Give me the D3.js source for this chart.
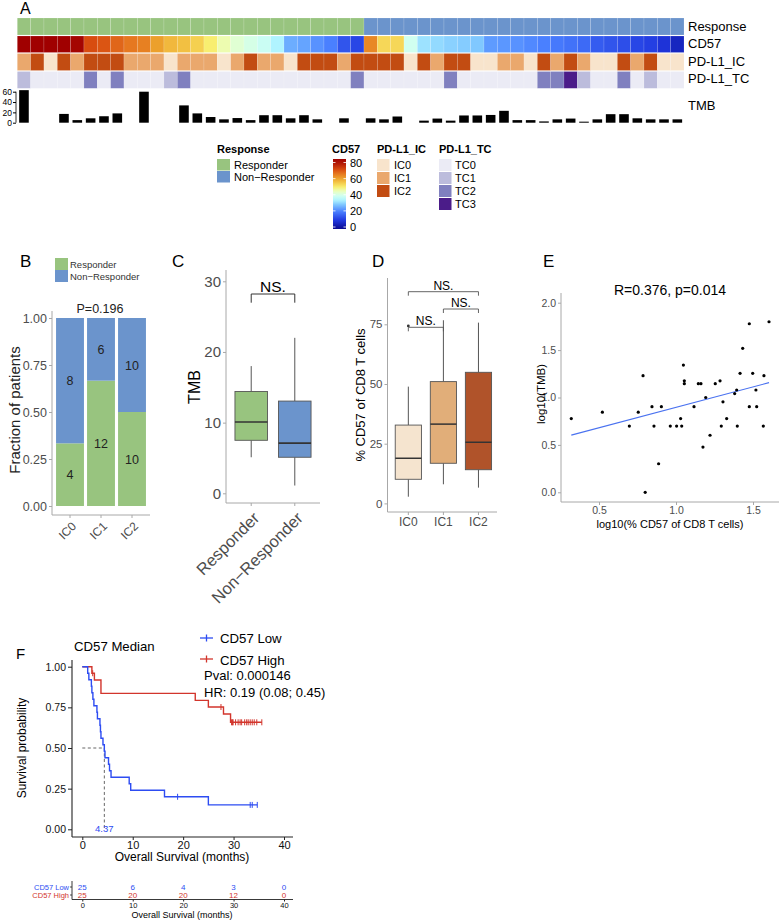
<!DOCTYPE html>
<html><head><meta charset="utf-8">
<script src="https://cdn.jsdelivr.net/npm/d3@7"></script>
<style>body{margin:0;background:#fff}</style>
</head><body>
<svg id="c" width="780" height="921"></svg>
<script>
// ================= DATA =================
// Panel A heatmap (50 patients)
const responseCodes = ["R","R","R","R","R","R","R","R","R","R","R","R","R","R","R","R","R","R","R","R","R","R","R","R","R","R",
  "N","N","N","N","N","N","N","N","N","N","N","N","N","N","N","N","N","N","N","N","N","N","N","N"];
const cd57Values = [85,84,83,80,79,68,67,65,63,62,58,55,54,52,48,44,41,39,37,33,25,24,22,20,14,12,
  61,51,51,38,31,30,29,28.5,28,23,22.5,22,21,20,19,18,17,15,14,13,12,11,9,6];
const pdl1IC = ["IC1","IC2","IC0","IC2","IC1","IC2","IC2","IC2","IC1","IC1","IC1","IC0","IC1","IC1","IC1","IC0","IC1","IC2","IC1","IC1","IC0","IC2","IC2","IC2","IC1","IC2",
  "IC2","IC2","IC2","IC0","IC2","IC1","IC2","IC2","IC0","IC0","IC1","IC1","IC0","IC2","IC1","IC2","IC1","IC0","IC0","IC2","IC1","IC2","IC0","IC0"];
const pdl1TC = ["TC1","TC0","TC0","TC0","TC0","TC2","TC0","TC2","TC0","TC0","TC0","TC1","TC2","TC0","TC0","TC0","TC0","TC0","TC0","TC0","TC0","TC0","TC0","TC0","TC0","TC2",
  "TC0","TC0","TC0","TC0","TC0","TC0","TC2","TC0","TC0","TC0","TC0","TC0","TC0","TC2","TC2","TC3","TC1","TC0","TC0","TC2","TC0","TC1","TC0","TC0"];
const tmbValues = [63,null,null,17,5,8.5,12.5,18,null,60,null,null,33.5,18,11,6.5,9,5,14.5,14.5,8.5,14.5,6.5,null,8.5,null,
  8.5,6.5,12,null,4,8,4,14,14,15,23,5,5,2.5,6.5,8,2,6.5,16.5,16.5,8.5,6.5,6.5,6.5];
const tmbTicks = [0,20,40,60];
const cd57LegendTicks = [0,20,40,60,80];
const icLevels = ["IC0","IC1","IC2"];
const tcLevels = ["TC0","TC1","TC2","TC3"];
const responseLevels = ["Responder","Non\u2212Responder"];

// Panel B
const bCategories = ["IC0","IC1","IC2"];
const bResponders = [4,12,10];
const bNonResponders = [8,6,10];
const bTicks = [0,0.25,0.5,0.75,1];

// Panel C (TMB by response, box stats)
const cGroups = ["Responder","Non\u2212Responder"];
const cMin = [5.1,1.1], cQ1 = [7.5,5.1], cMed = [10.1,7.1], cQ3 = [14.4,13.05], cMax = [18,22];
const cTicks = [0,10,20,30];

// Panel D (% CD57 by PD-L1 IC)
const dGroups = ["IC0","IC1","IC2"];
const dMin = [2.8,8,6.6], dQ1 = [10.1,16.8,14.1], dMed = [18.9,33.2,25.6], dQ3 = [32.8,51,54.9], dMax = [48.9,76.7,75.7];
const dOutlierGroup = ["IC0"], dOutlierValue = [74.3];
const dTicks = [0,25,50,75];

// Panel E scatter
const eX = [0.320,0.522,0.697,0.755,0.786,0.844,0.857,0.905,0.887,0.963,1.004,1.030,1.037,1.048,1.054,1.054,1.117,1.145,1.162,1.175,1.193,1.221,1.255,1.286,1.294,1.305,1.329,1.381,1.394,1.398,1.416,1.433,1.476,1.476,1.498,1.519,1.524,1.567,1.571,1.604,0.800];
const eY = [0.778,0.845,0.699,0.845,1.230,0.903,0.699,0.903,0.301,0.699,0.699,0.778,0.699,1.342,1.176,1.146,0.903,1.146,1.146,0.477,1.000,0.602,1.146,1.176,0.699,0.954,0.778,1.041,1.079,0.699,1.255,1.519,1.778,0.903,1.255,1.079,0.903,0.699,1.230,1.799,0.000];
const eFitX = [0.320,1.604], eFitY = [0.603,1.157];
const eYTicks = [0,0.5,1,1.5,2], eXTicks = [0.5,1,1.5];

// Panel F survival
const lowTimes = [0,1.07,1.3,1.8,1.9,2.1,2.3,2.9,3.0,3.5,3.6,3.7,4.1,4.37,4.5,5.2,5.4,5.7,9.3,9.6,16.3,25.0,34.7];
const lowSurv  = [1,0.96,0.92,0.88,0.84,0.80,0.76,0.72,0.68,0.64,0.60,0.56,0.52,0.48,0.44,0.40,0.36,0.32,0.28,0.24,0.20,0.15,0.15];
const lowCensor = [18.9,33.3,33.7,34.7];
const highTimes = [0,1.9,2.4,3.7,22.4,25.0,28.0,29.4,35.6];
const highSurv  = [1,0.96,0.918,0.836,0.793,0.752,0.709,0.658,0.658];
const highCensor = [2.06,27.5,29.6,29.8,29.9,30.4,30.9,31.3,31.6,32.2,32.6,32.9,33.3,33.7,34.1,34.6,35.6];
const medianLow = 4.37;
const fTicksX = [0,10,20,30,40], fTicksY = [0,0.25,0.5,0.75,1];
const riskTimes = [0,10,20,30,40];
const riskLow = [25,6,4,3,0];
const riskHigh = [25,20,20,12,0];

// ================= STYLE =================
const FONT = '"Liberation Sans", Arial, Helvetica, sans-serif';
const GREEN = "#98c47f", BLUE = "#6b94cc";
const respColor = {R: GREEN, N: BLUE};
const icColor = {IC0:"#f8e4cc", IC1:"#eaa86d", IC2:"#c24c12"};
const tcColor = {TC0:"#ebebf5", TC1:"#bcbcdc", TC2:"#8080bf", TC3:"#4b1c89"};
const dFill = {IC0:"#f5e4cf", IC1:"#e1ae79", IC2:"#b0532a"};
const cd57Scale = d3.scaleLinear()
  .domain([0,10,20,28,33,38,43,48,53,58,63,68,74,80])
  .range(["#0a0a90","#2038e0","#4a80ff","#80c8ff","#b0f4ff","#d0fff0","#eaffc0","#f8ee70","#f4c848","#eca02c","#e67820","#d84c10","#b82008","#a00000"])
  .clamp(true);
const AX = "#a8a8a8", TX = "#4d4d4d";
const RED = "#d2352c", BLU = "#2d4cf2";

const svg = d3.select("#c").attr("font-family", FONT);
function text(x,y,s,o={}) {
  const t = svg.append("text").attr("x",x).attr("y",y).text(s)
    .attr("font-size", o.size||12).attr("fill", o.fill||"#000")
    .attr("text-anchor", o.anchor||"start");
  if (o.weight) t.attr("font-weight", o.weight);
  if (o.rotate) t.attr("transform", `rotate(${o.rotate},${x},${y})`);
  return t;
}
function line(x1,y1,x2,y2,c,w,dash) {
  const l = svg.append("line").attr("x1",x1).attr("y1",y1).attr("x2",x2).attr("y2",y2)
    .attr("stroke",c).attr("stroke-width",w||1);
  if (dash) l.attr("stroke-dasharray",dash);
  return l;
}
function styleAxis(g, lineC, textC, fs) {
  g.attr("font-family", FONT).attr("font-size", fs);
  g.select(".domain").remove();
  g.selectAll(".tick line").attr("stroke", lineC);
  g.selectAll(".tick text").attr("fill", textC);
}

// ================= PANEL A =================
text(20,14,"A",{size:16});
const n = cd57Values.length;
const xA = d3.scaleBand().domain(d3.range(n)).range([17.3,684]);
const rows = [
  {y0:18, y1:35, color:i=>respColor[responseCodes[i]]},
  {y0:36, y1:52.5, color:i=>cd57Scale(cd57Values[i])},
  {y0:53.5, y1:70.5, color:i=>icColor[pdl1IC[i]]},
  {y0:71.5, y1:88.3, color:i=>tcColor[pdl1TC[i]]}
];
rows.forEach(r=>{
  svg.append("g").selectAll("rect").data(d3.range(n)).join("rect")
    .attr("x",i=>xA(i)).attr("y",r.y0).attr("width",xA.bandwidth()).attr("height",r.y1-r.y0)
    .attr("fill",i=>r.color(i)).attr("stroke","#fff").attr("stroke-width",0.4).attr("stroke-opacity",0.35);
});
const yTmb = d3.scaleLinear().domain([0,60]).range([122.7,91.7]);
svg.append("g").selectAll("rect").data(d3.range(n).filter(i=>tmbValues[i]!=null)).join("rect")
  .attr("x",i=>xA(i)+xA.bandwidth()/2-4.8).attr("width",9.6)
  .attr("y",i=>yTmb(tmbValues[i])).attr("height",i=>yTmb(0)-yTmb(tmbValues[i])).attr("fill","#000");
const gT = svg.append("g").attr("transform","translate(16,0)").call(d3.axisLeft(yTmb).tickValues(tmbTicks).tickSize(3).tickPadding(1));
styleAxis(gT,"#000","#000",8.5);
line(16,91.7,16,122.7,"#000",0.8);
text(688,31,"Response",{size:13});
text(688,48,"CD57",{size:13});
text(688,66,"PD-L1_IC",{size:13});
text(688,83,"PD-L1_TC",{size:13});
text(688,110,"TMB",{size:13});

// Legends
text(217,153,"Response",{size:11,weight:"bold"});
["R","N"].forEach((k,i)=>{
  svg.append("rect").attr("x",217).attr("y",159+i*12).attr("width",13).attr("height",11.5).attr("fill",respColor[k]);
  text(234,168.5+i*12,responseLevels[i],{size:11});
});
text(332,153,"CD57",{size:11,weight:"bold"});
const grad = svg.append("defs").append("linearGradient").attr("id","cdg").attr("x1",0).attr("y1",1).attr("x2",0).attr("y2",0);
d3.range(0,81,2).forEach(v=>grad.append("stop").attr("offset",v/80).attr("stop-color",cd57Scale(v)));
const yLeg = d3.scaleLinear().domain([0,80]).range([227,162.5]);
svg.append("rect").attr("x",333).attr("y",159).attr("width",13).attr("height",70).attr("fill","url(#cdg)");
cd57LegendTicks.forEach(v=>{
  line(333,yLeg(v),335.5,yLeg(v),"#fff",0.8);
  line(343.5,yLeg(v),346,yLeg(v),"#fff",0.8);
  text(350,yLeg(v)+4,String(v),{size:11});
});
text(377,153,"PD-L1_IC",{size:11,weight:"bold"});
icLevels.forEach((k,i)=>{
  svg.append("rect").attr("x",377).attr("y",159+i*13).attr("width",12.5).attr("height",12).attr("fill",icColor[k]);
  text(394,169+i*13,k,{size:11});
});
text(439,153,"PD-L1_TC",{size:11,weight:"bold"});
tcLevels.forEach((k,i)=>{
  svg.append("rect").attr("x",439).attr("y",159+i*13).attr("width",12.5).attr("height",12).attr("fill",tcColor[k]);
  text(455,169+i*13,k,{size:11});
});

// ================= PANEL B =================
text(20,267,"B",{size:17});
svg.append("rect").attr("x",55).attr("y",258).attr("width",13).attr("height",12).attr("fill",GREEN);
svg.append("rect").attr("x",55).attr("y",270).attr("width",13).attr("height",12).attr("fill",BLUE);
text(70,268,"Responder",{size:9.5,fill:"#333"});
text(70,280,"Non\u2212Responder",{size:9.5,fill:"#333"});
text(100,312.5,"P=0.196",{size:12.5,anchor:"middle",fill:"#222"});
const xB = d3.scaleBand().domain(bCategories).range([54.5,147.5]).paddingInner(0.1).paddingOuter(0.05);
const yB = d3.scaleLinear().domain([0,1]).range([506,318]);
bCategories.forEach((c,i)=>{
  const tot = bResponders[i]+bNonResponders[i];
  const fr = bResponders[i]/tot;
  svg.append("rect").attr("x",xB(c)).attr("width",xB.bandwidth()).attr("y",yB(fr)).attr("height",yB(0)-yB(fr)).attr("fill",GREEN);
  svg.append("rect").attr("x",xB(c)).attr("width",xB.bandwidth()).attr("y",yB(1)).attr("height",yB(fr)-yB(1)).attr("fill",BLUE);
  text(xB(c)+xB.bandwidth()/2, yB(fr/2)+4.5, String(bResponders[i]),{size:12.5,anchor:"middle",fill:"#222"});
  text(xB(c)+xB.bandwidth()/2, yB((1+fr)/2)+4.5, String(bNonResponders[i]),{size:12.5,anchor:"middle",fill:"#222"});
});
const gBy = svg.append("g").attr("transform","translate(52,0)").call(d3.axisLeft(yB).tickValues(bTicks).tickFormat(d3.format(".2f")).tickSize(3).tickPadding(2));
styleAxis(gBy,AX,TX,12.5);
line(52,311,52,515,AX,1);
const gBx = svg.append("g").attr("transform","translate(0,515)").call(d3.axisBottom(xB).tickSize(3));
styleAxis(gBx,AX,TX,12);
gBx.selectAll(".tick text").attr("text-anchor","end").attr("y",0).attr("dy","0.35em").attr("transform","translate(4,9) rotate(-45)");
line(52,515,150,515,AX,1);
text(20,410,"Fraction of patients",{size:15,anchor:"middle",rotate:-90,fill:"#222"});

// ================= PANEL C =================
text(172,267,"C",{size:17});
const xC = d3.scaleBand().domain(cGroups).range([230.5,315.5]).paddingInner(0.25).paddingOuter(0.1);
const yC = d3.scaleLinear().domain([0,30]).range([493.3,281.3]);
const cFill = [GREEN, BLUE];
cGroups.forEach((g,i)=>{
  const cx = xC(g)+xC.bandwidth()/2, w = 32.5;
  line(cx,yC(cMax[i]),cx,yC(cQ3[i]),"#555",1);
  line(cx,yC(cQ1[i]),cx,yC(cMin[i]),"#555",1);
  svg.append("rect").attr("x",cx-w/2).attr("width",w).attr("y",yC(cQ3[i])).attr("height",yC(cQ1[i])-yC(cQ3[i]))
    .attr("fill",cFill[i]).attr("stroke","#555").attr("stroke-width",0.9);
  line(cx-w/2,yC(cMed[i]),cx+w/2,yC(cMed[i]),"#333",1.6);
});
const gCy = svg.append("g").attr("transform","translate(226,0)").call(d3.axisLeft(yC).tickValues(cTicks).tickSize(3).tickPadding(2));
styleAxis(gCy,AX,TX,15);
line(226,270,226,503,AX,1);
const gCx = svg.append("g").attr("transform","translate(0,503)").call(d3.axisBottom(xC).tickSize(3));
styleAxis(gCx,AX,TX,16.5);
gCx.selectAll(".tick text").attr("text-anchor","end").attr("y",0).attr("dy","0.35em").attr("transform","translate(5,12) rotate(-45)");
line(226,503,320,503,AX,1);
{
  const x1 = xC(cGroups[0])+xC.bandwidth()/2, x2 = xC(cGroups[1])+xC.bandwidth()/2;
  svg.append("path").attr("d",`M${x1},302.7V294H${x2}V302.7`).attr("fill","none").attr("stroke","#333").attr("stroke-width",1);
  text((x1+x2)/2,292,"NS.",{size:15.5,anchor:"middle"});
}
text(200,387,"TMB",{size:16,anchor:"middle",rotate:-90});

// ================= PANEL D =================
text(372,267,"D",{size:17});
const xD = d3.scaleBand().domain(dGroups).range([390.8,496]).paddingInner(0.26).paddingOuter(0.13);
const yD = d3.scaleLinear().domain([0,75]).range([503.4,324.3]);
dGroups.forEach((g,i)=>{
  const cx = xD(g)+xD.bandwidth()/2, w = 26.2;
  line(cx,yD(dMax[i]),cx,yD(dQ3[i]),"#555",1);
  line(cx,yD(dQ1[i]),cx,yD(dMin[i]),"#555",1);
  svg.append("rect").attr("x",cx-w/2).attr("width",w).attr("y",yD(dQ3[i])).attr("height",yD(dQ1[i])-yD(dQ3[i]))
    .attr("fill",dFill[g]).attr("stroke","#555").attr("stroke-width",0.9);
  line(cx-w/2,yD(dMed[i]),cx+w/2,yD(dMed[i]),"#333",1.5);
});
dOutlierGroup.forEach((g,i)=>{
  svg.append("circle").attr("cx",xD(g)+xD.bandwidth()/2).attr("cy",yD(dOutlierValue[i])).attr("r",1.4).attr("fill","#333");
});
const gDy = svg.append("g").attr("transform","translate(387.5,0)").call(d3.axisLeft(yD).tickValues(dTicks).tickSize(3).tickPadding(2));
styleAxis(gDy,AX,TX,11.5);
line(387.5,278,387.5,512,AX,1);
const gDx = svg.append("g").attr("transform","translate(0,512)").call(d3.axisBottom(xD).tickSize(3).tickPadding(2));
styleAxis(gDx,AX,TX,12);
line(387.5,512,497,512,AX,1);
{
  const c = dGroups.map(g=>xD(g)+xD.bandwidth()/2);
  const br = (a,b,y,ty)=>{
    svg.append("path").attr("d",`M${a},${y+4}V${y}H${b}V${y+4}`).attr("fill","none").attr("stroke","#555").attr("stroke-width",0.9);
    text((a+b)/2,ty,"NS.",{size:12,anchor:"middle"});
  };
  br(c[0],c[2],291.7,289.5);
  br(c[1],c[2],309,306.5);
  br(c[0],c[1],327.3,325);
}
text(365,395,"% CD57 of CD8 T cells",{size:13,anchor:"middle",rotate:-90});

// ================= PANEL E =================
text(543,267,"E",{size:17});
text(670,295,"R=0.376, p=0.014",{size:14,anchor:"middle"});
const xE = d3.scaleLinear().domain([0,1]).range([522,676]);
const yE = d3.scaleLinear().domain([0,2]).range([492.3,302.7]);
svg.append("line").attr("x1",xE(eFitX[0])).attr("y1",yE(eFitY[0])).attr("x2",xE(eFitX[1])).attr("y2",yE(eFitY[1]))
  .attr("stroke","#4a72f0").attr("stroke-width",1.1);
svg.append("g").selectAll("circle").data(eX).join("circle")
  .attr("cx",d=>xE(d)).attr("cy",(d,i)=>yE(eY[i])).attr("r",1.6).attr("fill","#000");
const gEy = svg.append("g").attr("transform","translate(561,0)").call(d3.axisLeft(yE).tickValues(eYTicks).tickFormat(d3.format(".1f")).tickSize(3).tickPadding(2));
styleAxis(gEy,AX,TX,10.5);
line(561,293,561,502,AX,1);
const gEx = svg.append("g").attr("transform","translate(0,502)").call(d3.axisBottom(xE).tickValues(eXTicks).tickFormat(d3.format(".1f")).tickSize(3).tickPadding(2));
styleAxis(gEx,AX,TX,10.5);
line(561,502,779,502,AX,1);
text(670,528,"log10(% CD57 of CD8 T cells)",{size:11,anchor:"middle"});
text(545,394,"log10(TMB)",{size:11.5,anchor:"middle",rotate:-90});

// ================= PANEL F =================
text(16,659,"F",{size:15});
text(74,651,"CD57 Median",{size:13.2});
line(200,638,213,638,BLU,1.3); line(206.5,634.5,206.5,641.5,BLU,1.3);
text(220,643,"CD57 Low",{size:13.2});
line(200,659,213,659,RED,1.3); line(206.5,655.5,206.5,662.5,RED,1.3);
text(220,664.5,"CD57 High",{size:13.2});
text(204,680,"Pval: 0.000146",{size:13});
text(204,697,"HR: 0.19 (0.08; 0.45)",{size:13});
const xF = d3.scaleLinear().domain([0,40]).range([82.3,284]);
const yF = d3.scaleLinear().domain([0,1]).range([829.3,666.7]);
const stepLine = d3.line().x(d=>xF(d[0])).y(d=>yF(d[1])).curve(d3.curveStepAfter);
function survAt(ts,ss,t){ let s=ss[0]; for(let i=0;i<ts.length;i++){ if(ts[i]<=t) s=ss[i]; } return s; }
// median dashed
svg.append("path").attr("d",`M${xF(0)},${yF(0.5)}H${xF(medianLow)}V${yF(0)}`).attr("fill","none")
  .attr("stroke","#555").attr("stroke-width",0.9).attr("stroke-dasharray","3,2.5");
[[highTimes,highSurv,highCensor,RED],[lowTimes,lowSurv,lowCensor,BLU]].forEach(([ts,ss,cs,col])=>{
  svg.append("path").attr("d",stepLine(ts.map((t,i)=>[t,ss[i]]))).attr("fill","none").attr("stroke",col).attr("stroke-width",1.4);
  cs.forEach(t=>{ const y=yF(survAt(ts,ss,t)); line(xF(t),y-3,xF(t),y+3,col,1); });
});
text(xF(medianLow),832,"4.37",{size:9.5,anchor:"middle",fill:BLU});
const gFy = svg.append("g").attr("transform","translate(72,0)").call(d3.axisLeft(yF).tickValues(fTicksY).tickFormat(d3.format(".2f")).tickSize(4).tickPadding(2));
styleAxis(gFy,"#222","#111",10.5);
line(72,660,72,837,"#222",1.1);
const gFx = svg.append("g").attr("transform","translate(0,837)").call(d3.axisBottom(xF).tickValues(fTicksX).tickSize(3).tickPadding(1));
styleAxis(gFx,"#222","#111",11);
line(72,837,293,837,"#222",1.1);
text(182,861,"Overall Survival (months)",{size:12,anchor:"middle"});
text(26,748,"Survival probability",{size:12,anchor:"middle",rotate:-90});
// risk table
text(69,889.5,"CD57 Low",{size:7.5,anchor:"end",fill:BLU});
text(69,897.5,"CD57 High",{size:7.5,anchor:"end",fill:RED});
riskTimes.forEach((t,i)=>{
  text(xF(t),889.8,String(riskLow[i]),{size:8,anchor:"middle",fill:BLU});
  text(xF(t),898,String(riskHigh[i]),{size:8,anchor:"middle",fill:RED});
});
line(72,881,72,899.5,"#222",0.9);
line(70,887,72,887,"#222",0.8); line(70,895,72,895,"#222",0.8);
const gR = svg.append("g").attr("transform","translate(0,899.5)").call(d3.axisBottom(xF).tickValues(riskTimes).tickSize(2).tickPadding(1));
styleAxis(gR,"#222","#111",7.5);
line(72,899.5,293,899.5,"#222",0.9);
text(182,918,"Overall Survival (months)",{size:9,anchor:"middle"});
</script>
</body></html>
